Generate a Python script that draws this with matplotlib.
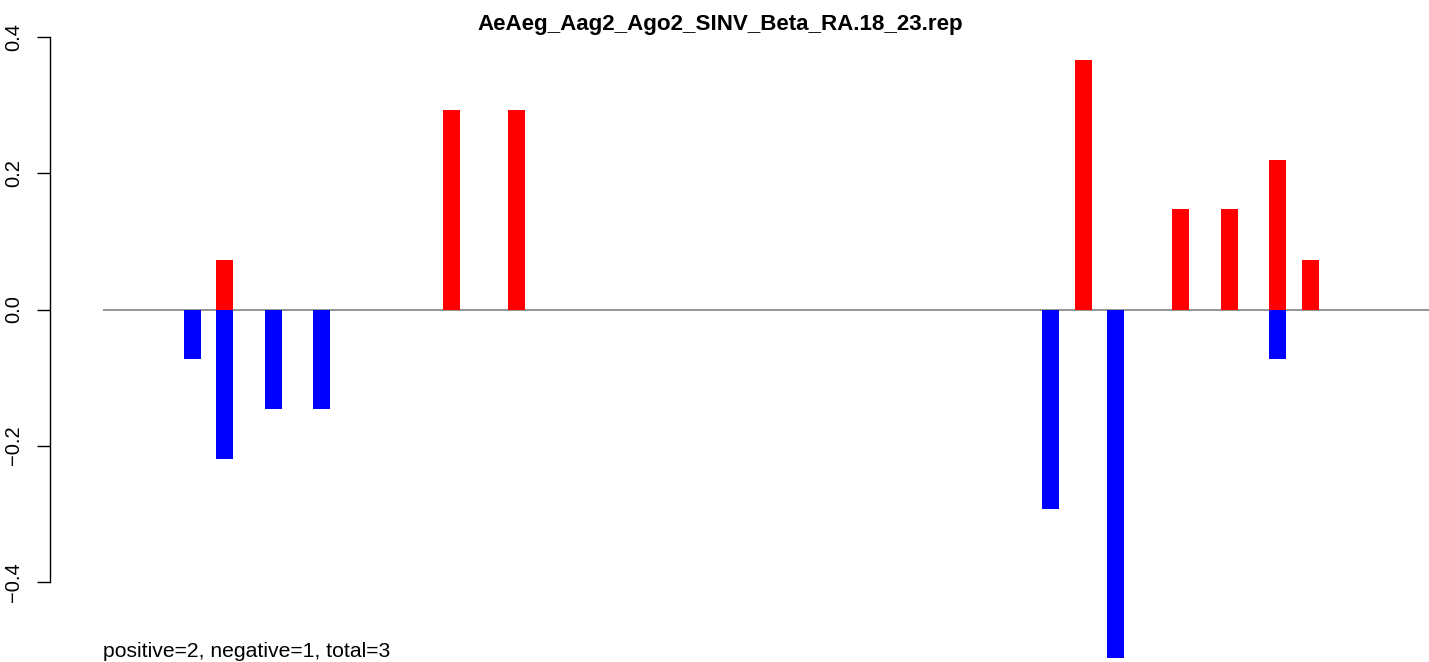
import matplotlib
matplotlib.use("Agg")
import matplotlib.pyplot as plt

plt.rcParams['font.family'] = ['Liberation Sans', 'DejaVu Sans']

title = "AeAeg_Aag2_Ago2_SINV_Beta_RA.18_23.rep"
note = "positive=2, negative=1, total=3"

# positive strand (red) and negative strand (blue) values by position
pos_x = [8, 22, 26, 61, 67, 70, 73, 75]
pos_y = [0.073, 0.293, 0.293, 0.366, 0.147, 0.147, 0.220, 0.073]
neg_x = [6, 8, 11, 14, 59, 63, 73]
neg_y = [-0.073, -0.220, -0.146, -0.146, -0.293, -0.512, -0.073]
yticks = [-0.4, -0.2, 0.0, 0.2, 0.4]

W, H = 1429, 662
fig = plt.figure(figsize=(W / 100, H / 100), dpi=100)
ax = fig.add_axes([50 / W, 0, 1 - 50 / W, 1])

unit = 16.203  # px per position
ax.set_xlim(0.5 - 53 / unit, 0.5 + (W - 103) / unit)
ax.set_ylim((309.5 - H) / 680.5, 309.5 / 680.5)

ax.bar(pos_x, pos_y, width=1.05, color="red", zorder=2)
ax.bar(neg_x, neg_y, width=1.05, color="blue", zorder=2)
ax.hlines(0, 0.5, 100, color="#777777", lw=1.1, zorder=1)

for s in ["top", "right", "bottom"]:
    ax.spines[s].set_visible(False)
ax.spines["left"].set_bounds(-0.4, 0.4)
ax.spines["left"].set_linewidth(1.0)
ax.set_xticks([])
ax.set_yticks(yticks)
ax.set_yticklabels(["\u22120.4", "\u22120.2", "0.0", "0.2", "0.4"])
ax.tick_params(axis="y", length=9.4, width=1.0, pad=10, labelsize=14.5,
               rotation=90)
for lab in ax.get_yticklabels():
    lab.set_va("center")

ax.text(0.5, (309.5 - 657) / 680.5, note, fontsize=15.2, ha="left",
        va="baseline")
fig.text(720.5 / W, 1 - 30 / H, title, fontsize=16.1, fontweight="bold",
         ha="center", va="baseline")

fig.savefig("out.png", dpi=100)
